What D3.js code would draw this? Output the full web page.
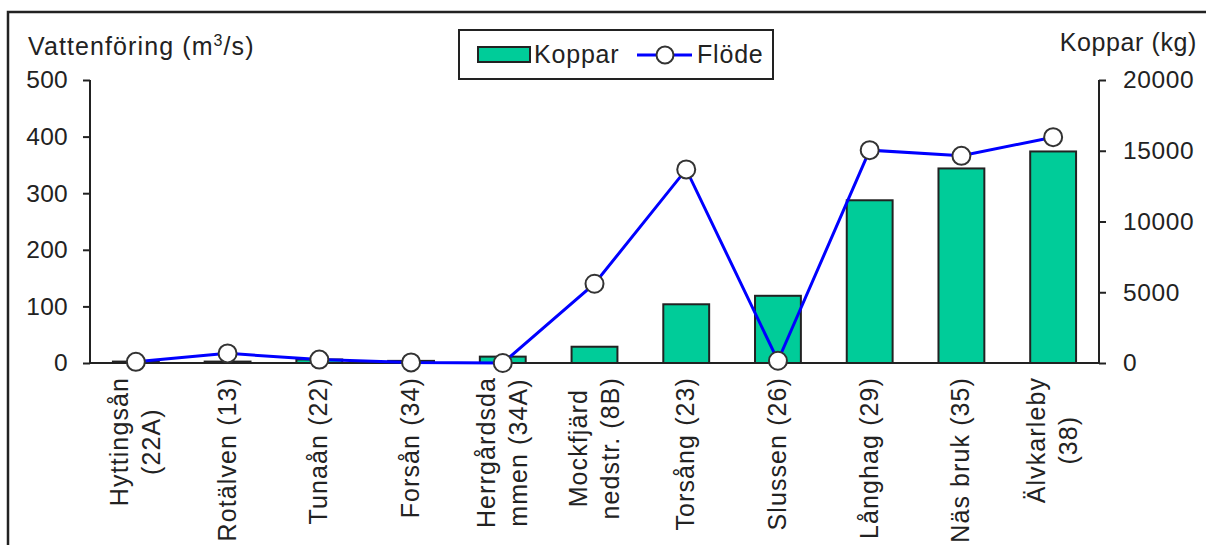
<!DOCTYPE html>
<html>
<head>
<meta charset="utf-8">
<script src="https://cdn.jsdelivr.net/npm/d3@7"></script>
<style>
  html, body { margin: 0; padding: 0; background: #fff; }
  svg { display: block; font-family: "Liberation Sans", Arial, sans-serif; }
</style>
</head>
<body>
<svg id="chart" width="1206" height="545"></svg>
<script>
// Measuring stations (each entry holds the label's lines)
const stations = [
  ["Hyttingsån", "(22A)"],
  ["Rotälven (13)"],
  ["Tunaån (22)"],
  ["Forsån (34)"],
  ["Herrgårdsda", "mmen (34A)"],
  ["Mockfjärd", "nedstr. (8B)"],
  ["Torsång (23)"],
  ["Slussen (26)"],
  ["Långhag (29)"],
  ["Näs bruk (35)"],
  ["Älvkarleby", "(38)"]
];
// Copper transport, kg (right axis)
const koppar = [100, 100, 250, 150, 450, 1150, 4150, 4750, 11500, 13750, 14950];
// Water flow, m³/s (left axis)
const flode = [2, 17, 6, 1, 0, 140, 342, 4, 376, 366, 399];

const leftTicks = [0, 100, 200, 300, 400, 500];
const rightTicks = [0, 5000, 10000, 15000, 20000];

const svg = d3.select("#chart");
const ink = "#222";

// Outer frame (top and left edges)
svg.append("path")
  .attr("d", "M8,545 V12 H1206")
  .attr("fill", "none").attr("stroke", ink).attr("stroke-width", 2.5);

const x0 = 90, x1 = 1099, yBase = 363, yTop = 80;
const keys = stations.map((d, i) => i);

const x = d3.scaleBand().domain(keys).range([x0, x1])
  .paddingInner(0.5).paddingOuter(0.25);
const yL = d3.scaleLinear().domain([0, 500]).range([yBase, yTop]);
const yR = d3.scaleLinear().domain([0, 20000]).range([yBase, yTop]);

// Bars: copper
svg.append("g").selectAll("rect")
  .data(koppar)
  .join("rect")
  .attr("x", (d, i) => x(i))
  .attr("y", d => yR(d))
  .attr("width", x.bandwidth())
  .attr("height", d => yBase - yR(d))
  .attr("fill", "#00cc99")
  .attr("stroke", ink)
  .attr("stroke-width", 2);

// Axes
const axisStyle = (spacing) => g => {
  g.selectAll("path, line").attr("stroke", ink).attr("stroke-width", 2);
  g.selectAll("text").attr("font-size", 24.5).attr("fill", "#222")
    .attr("letter-spacing", spacing)
    .attr("font-family", "'Liberation Sans', Arial, sans-serif");
};
svg.append("g").attr("transform", `translate(${x0},0)`)
  .call(d3.axisLeft(yL).tickValues(leftTicks).tickSize(7).tickPadding(15).tickSizeOuter(0))
  .call(g => g.select(".domain").attr("d", `M0,${yTop}V${yBase}`))
  .call(axisStyle("0.3px"));
svg.append("g").attr("transform", `translate(${x1},0)`)
  .call(d3.axisRight(yR).tickValues(rightTicks).tickSize(7).tickPadding(17).tickSizeOuter(0)
    .tickFormat(d3.format("d")))
  .call(g => g.select(".domain").attr("d", `M0,${yTop}V${yBase}`))
  .call(axisStyle("0.6px"));

// Horizontal base line
svg.append("line")
  .attr("x1", x0 - 1).attr("x2", x1 + 1)
  .attr("y1", yBase).attr("y2", yBase)
  .attr("stroke", ink).attr("stroke-width", 2);

// Category labels, rotated, lines centred within each block
const labelTop = 377;
const lineGap = 32;
const lbl = svg.append("g")
  .attr("font-size", 25).attr("fill", "#222").attr("letter-spacing", "1.1px");
stations.forEach((lines, i) => {
  const cx = x(i) + x.bandwidth() / 2;
  const g = lbl.append("g").attr("transform", `translate(${cx},${labelTop}) rotate(-90)`);
  const texts = lines.map((t, k) => g.append("text").text(t)
    .attr("text-anchor", "middle")
    .attr("y", 8 + (k - (lines.length - 1) / 2) * lineGap));
  const L = d3.max(texts, t => t.node().getComputedTextLength());
  texts.forEach(t => t.attr("x", -L / 2));
});

// Flow line with circle markers
const line = d3.line().x((d, i) => x(i) + x.bandwidth() / 2).y(d => yL(d));
svg.append("path")
  .datum(flode)
  .attr("d", line)
  .attr("fill", "none").attr("stroke", "#0000ff").attr("stroke-width", 3);
svg.append("g").selectAll("circle")
  .data(flode)
  .join("circle")
  .attr("cx", (d, i) => x(i) + x.bandwidth() / 2)
  .attr("cy", d => yL(d))
  .attr("r", 9)
  .attr("fill", "#fff").attr("stroke", "#333").attr("stroke-width", 2);

// Axis titles
const tl = svg.append("text").attr("x", 28).attr("y", 55)
  .attr("font-size", 25).attr("letter-spacing", "1.1px").attr("fill", "#222");
tl.append("tspan").text("Vattenföring (m");
tl.append("tspan").text("3").attr("font-size", 16).attr("dy", -9);
tl.append("tspan").text("/s)").attr("dy", 9);

svg.append("text").attr("x", 1197).attr("y", 51)
  .attr("text-anchor", "end").attr("font-size", 25).attr("letter-spacing", "0.6px")
  .attr("fill", "#222")
  .text("Koppar (kg)");

// Legend
const lg = svg.append("g");
lg.append("rect").attr("x", 459).attr("y", 30).attr("width", 314).attr("height", 49)
  .attr("fill", "#fff").attr("stroke", ink).attr("stroke-width", 2);
lg.append("rect").attr("x", 478).attr("y", 47).attr("width", 52).attr("height", 15)
  .attr("fill", "#00cc99").attr("stroke", ink).attr("stroke-width", 2);
lg.append("text").attr("x", 534).attr("y", 63).attr("font-size", 25)
  .attr("letter-spacing", "0.8px").attr("fill", "#222").text("Koppar");
lg.append("line").attr("x1", 637).attr("x2", 692).attr("y1", 55).attr("y2", 55)
  .attr("stroke", "#0000ff").attr("stroke-width", 3);
lg.append("circle").attr("cx", 665).attr("cy", 55).attr("r", 8.5)
  .attr("fill", "#fff").attr("stroke", "#333").attr("stroke-width", 2);
lg.append("text").attr("x", 697).attr("y", 63).attr("font-size", 25)
  .attr("letter-spacing", "0.8px").attr("fill", "#222").text("Flöde");
</script>
</body>
</html>
